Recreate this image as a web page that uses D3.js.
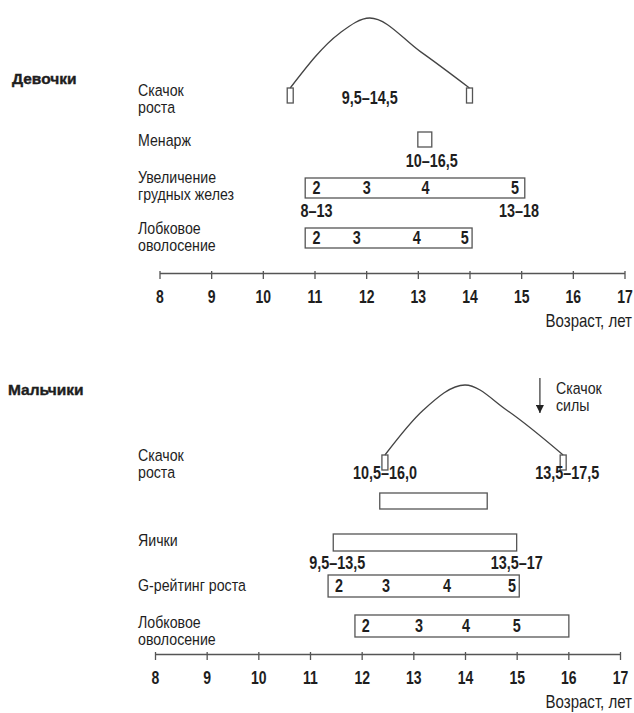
<!DOCTYPE html>
<html>
<head>
<meta charset="utf-8">
<script src="https://cdn.jsdelivr.net/npm/d3@7"></script>
<style>
  body { margin: 0; background: #fff; }
  text { font-family: "Liberation Sans", Arial, sans-serif; fill: #1e1e1e; }
  .title { font-weight: bold; font-size: 15.5px; stroke: #1e1e1e; stroke-width: 0.4; }
  .lbl { font-size: 16.5px; }
  .num { font-size: 18px; font-weight: bold; }
  .axis text { font-size: 17.5px; font-weight: bold; fill: #1e1e1e; }
  .axis path, .axis line { stroke: #555; stroke-width: 1.3; }
  .bar { fill: none; stroke: #555; stroke-width: 1.3; }
  .curve { fill: none; stroke: #444; stroke-width: 1.3; }
</style>
</head>
<body>
<script>
var width = 634,
    height = 713,
    narrow = 0.8,      // squeeze numbers to look like a condensed face
    narrowLbl = 0.86;  // and the row labels a bit less

var tickAges = [8, 9, 10, 11, 12, 13, 14, 15, 16, 17];
var stageNames = ["2", "3", "4", "5"];

// Девочки
var girlsSpurtCurve = [[10.53, 0], [11.48, 0.78], [12.07, 1], [13.05, 0.52], [14.0, 0]];
var girlsSpurtRange = "9,5–14,5";
var girlsMenarche = [13.0, 13.27];
var girlsMenarcheRange = "10–16,5";
var girlsBreast = [10.82, 15.07];
var girlsBreastStages = [11.04, 12.01, 13.15, 14.88];
var girlsBreastRanges = ["8–13", "13–18"];
var girlsPubic = [10.82, 14.05];
var girlsPubicStages = [11.04, 11.82, 12.98, 13.91];

// Мальчики
var boysSpurtCurve = [[12.45, 0], [13.19, 0.64], [14.0, 1], [14.81, 0.64], [15.9, 0]];
var boysSpurtRanges = ["10,5–16,0", "13,5–17,5"];
var boysStrengthSpurt = 15.45;
var boysSpurtBox = [12.35, 14.43];
var boysTestes = [11.45, 15.0];
var boysTestesRanges = ["9,5–13,5", "13,5–17"];
var boysPenis = [11.35, 15.05];
var boysPenisStages = [11.56, 12.47, 13.65, 14.91];
var boysPubic = [11.87, 16.01];
var boysPubicStages = [12.08, 13.11, 14.02, 15.0];

var xTop = d3.scaleLinear()
    .domain([8, 17])
    .range([159.5, 624.5]);

var xBottom = d3.scaleLinear()
    .domain([8, 17])
    .range([155, 620]);

var svg = d3.select("body").append("svg")
    .attr("width", width)
    .attr("height", height);

function place(x, y, sx) {
  return "translate(" + x + "," + y + ") scale(" + sx + ",1)";
}

// one text element per line, so the lines stay separate
function label(x, y, lines, cls) {
  lines.forEach(function(s, i) {
    svg.append("text")
        .attr("class", cls || "lbl")
        .attr("transform", place(x, y + i * 16.5, cls ? 1 : narrowLbl))
        .text(s);
  });
}

function rangeText(x, y, s) {
  svg.append("text")
      .attr("class", "num")
      .attr("text-anchor", "middle")
      .attr("transform", place(x, y, narrow))
      .text(s);
}

function bar(x, range, y, h) {
  svg.append("rect")
      .attr("class", "bar")
      .attr("x", x(range[0]))
      .attr("y", y)
      .attr("width", x(range[1]) - x(range[0]))
      .attr("height", h);
}

function stages(x, ages, y) {
  svg.append("g").selectAll("text")
    .data(ages)
    .join("text")
      .attr("class", "num")
      .attr("text-anchor", "middle")
      .attr("transform", function(d) { return place(x(d), y, narrow); })
      .text(function(d, i) { return stageNames[i]; });
}

function spurt(x, data, base, top) {
  var lvl = d3.scaleLinear().domain([0, 1]).range([base, top]);
  var line = d3.line()
      .x(function(d) { return x(d[0]); })
      .y(function(d) { return lvl(d[1]); })
      .curve(d3.curveMonotoneX);
  svg.append("path")
      .attr("class", "curve")
      .attr("d", line(data));
  [data[0], data[data.length - 1]].forEach(function(d) {
    svg.append("rect")
        .attr("class", "bar")
        .attr("x", x(d[0]) - 3)
        .attr("y", base)
        .attr("width", 6)
        .attr("height", 15);
  });
}

function axis(x, y) {
  var g = svg.append("g")
      .attr("class", "axis")
      .attr("transform", "translate(0," + y + ")")
      .call(d3.axisBottom(x)
        .tickValues(tickAges)
        .tickSize(6)
        .tickSizeOuter(0)
        .tickPadding(12)
        .tickFormat(d3.format("d")));
  g.selectAll(".tick line").attr("y1", -2);
  g.selectAll(".tick text")
      .attr("font-family", null)
      .attr("font-size", null)
      .attr("transform", "scale(" + narrow + ",1)");
  svg.append("text")
      .attr("class", "lbl")
      .style("font-size", "17.5px")
      .attr("text-anchor", "end")
      .attr("transform", place(632, y + 54, narrowLbl))
      .text("Возраст, лет");
}

// --- Девочки ---
label(12, 84, ["Девочки"], "title");

spurt(xTop, girlsSpurtCurve, 88, 18);
label(138, 96, ["Скачок", "роста"]);
rangeText(xTop(girlsSpurtCurve[2][0]), 104, girlsSpurtRange);

label(138, 146, ["Менарж"]);
bar(xTop, girlsMenarche, 132, 15);
rangeText(xTop(girlsMenarche[1]), 167, girlsMenarcheRange);

label(138, 183, ["Увеличение", "грудных желез"]);
bar(xTop, girlsBreast, 178, 20);
stages(xTop, girlsBreastStages, 194);
rangeText(xTop(girlsBreastStages[0]), 217, girlsBreastRanges[0]);
rangeText(xTop(girlsBreastStages[3]) + 4, 217, girlsBreastRanges[1]);

label(138, 234, ["Лобковое", "оволосение"]);
bar(xTop, girlsPubic, 228, 20);
stages(xTop, girlsPubicStages, 244);

axis(xTop, 273);

// --- Мальчики ---
label(8, 395, ["Мальчики"], "title");

spurt(xBottom, boysSpurtCurve, 455, 385);
label(138, 461, ["Скачок", "роста"]);
rangeText(xBottom(boysSpurtCurve[0][0]), 479, boysSpurtRanges[0]);
rangeText(xBottom(boysSpurtCurve[4][0]) + 4, 479, boysSpurtRanges[1]);

// скачок силы
svg.append("defs").append("marker")
    .attr("id", "arrow")
    .attr("viewBox", "0 0 10 10")
    .attr("refX", 10)
    .attr("refY", 5)
    .attr("markerWidth", 12)
    .attr("markerHeight", 8)
    .attr("markerUnits", "userSpaceOnUse")
    .attr("orient", "auto")
  .append("path")
    .attr("d", "M0,0L10,5L0,10Z")
    .attr("fill", "#222");
svg.append("line")
    .attr("x1", xBottom(boysStrengthSpurt))
    .attr("x2", xBottom(boysStrengthSpurt))
    .attr("y1", 378)
    .attr("y2", 413)
    .attr("stroke", "#333")
    .attr("stroke-width", 1.2)
    .attr("marker-end", "url(#arrow)");
label(556, 394, ["Скачок", "силы"]);

bar(xBottom, boysSpurtBox, 493, 16);

label(138, 546, ["Яички"]);
bar(xBottom, boysTestes, 534, 17);
rangeText(xBottom(boysTestes[0]) + 4, 569, boysTestesRanges[0]);
rangeText(xBottom(boysTestes[1]), 569, boysTestesRanges[1]);

label(138, 591, ["G-рейтинг роста"]);
bar(xBottom, boysPenis, 575, 22);
stages(xBottom, boysPenisStages, 592);

label(138, 628, ["Лобковое", "оволосение"]);
bar(xBottom, boysPubic, 615, 22);
stages(xBottom, boysPubicStages, 632);

axis(xBottom, 654);
</script>
</body>
</html>
